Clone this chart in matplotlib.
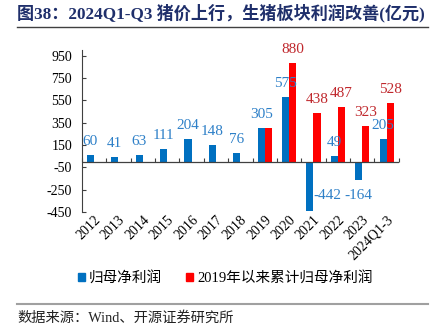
import matplotlib
matplotlib.use("Agg")
import matplotlib.pyplot as plt
import numpy as np
from matplotlib.patches import Patch

categories = ["2012", "2013", "2014", "2015", "2016", "2017", "2018", "2019",
              "2020", "2021", "2022", "2023", "2024Q1-3"]
net_profit = [60, 41, 63, 111, 204, 148, 76, 305, 575, -442, 49, -164, 205]
cum_profit = [None, None, None, None, None, None, None, 305, 880, 438, 487, 323, 528]
yticks = [-450, -250, -50, 150, 350, 550, 750, 950]

SERIF = ["Liberation Serif", "Noto Sans CJK SC", "DejaVu Sans"]
CJK = ["Liberation Serif", "Noto Sans CJK SC", "DejaVu Sans"]

BLUE = "#0070C0"
RED = "#FF0000"
BLUE_T = "#2E80C8"
RED_T = "#C0282D"

fig = plt.figure(figsize=(4.33, 3.35), dpi=100)
ax = fig.add_axes([0.189, 0.367, 0.732, 0.484])

x = np.arange(len(categories))
w = 0.29
ax.bar(x - w / 2, net_profit, width=w, color=BLUE, zorder=2)
cx = [xi for xi, v in zip(x, cum_profit) if v is not None]
cv = [v for v in cum_profit if v is not None]
ax.bar(np.array(cx) + w / 2, cv, width=w, color=RED, zorder=2)

ymin, ymax = -450, 1000
ax.set_ylim(ymin, ymax)
ax.set_xlim(-0.5, len(categories) - 0.5)

LFS = 11
for xi, v in zip(x, net_profit):
    if v >= 0:
        ax.annotate(str(v), (xi - w / 2, v), xytext=(0, 5), textcoords="offset points",
                    ha="center", va="bottom", color=BLUE_T, fontsize=LFS, family=SERIF)
ax.annotate(str(net_profit[9]), (x[9], -300), ha="left", va="center",
            color=BLUE_T, fontsize=LFS, family=SERIF)
ax.annotate(str(net_profit[11]), (x[11] - w / 2, -300), ha="center", va="center",
            color=BLUE_T, fontsize=LFS, family=SERIF)
for xi, v in zip(cx, cv):
    if xi == 7:  # 2019 shares the same value; only one label shown
        continue
    ax.annotate(str(v), (xi + w / 2, v), xytext=(0, 5), textcoords="offset points",
                ha="center", va="bottom", color=RED_T, fontsize=LFS, family=SERIF)

for s in ["top", "right", "bottom"]:
    ax.spines[s].set_visible(False)
ax.spines["left"].set_color("#404040")
ax.spines["left"].set_linewidth(0.8)
ax.set_yticks(yticks)
ax.set_yticklabels([str(t) for t in yticks], family=SERIF, fontsize=10)
ax.tick_params(axis="y", direction="in", length=3, color="#404040", pad=7)

ax.set_xticks(x)
ax.set_xticklabels(categories, rotation=45, ha="right", rotation_mode="anchor",
                   family=SERIF, fontsize=10)
ax.tick_params(axis="x", length=0, pad=1)

ax.axhline(0, color="#404040", linewidth=0.9, zorder=3)
frac = (0 - ymin) / (ymax - ymin)
sec = ax.secondary_xaxis(frac)
sec.set_xticks(np.arange(len(categories) + 1) - 0.5)
sec.set_xticklabels([])
sec.tick_params(axis="x", direction="in", length=3, color="#404040")
sec.spines["bottom"].set_visible(False)
sec.spines["top"].set_visible(False)

fig.text(0.04, 0.961, "图38：2024Q1-Q3 猪价上行，生猪板块利润改善(亿元)", ha="left", va="center",
         fontsize=12.3, fontweight="bold", color="#1F2F6B", family=CJK)
fig.add_artist(plt.Line2D([0.04, 0.988], [0.920, 0.920], color="#404040", linewidth=1.0))

handles = [Patch(color=BLUE, label="归母净利润"), Patch(color=RED, label="2019年以来累计归母净利润")]
fig.legend(handles=handles, loc="center", bbox_to_anchor=(0.52, 0.17), ncol=2,
           frameon=False, handlelength=0.5, handleheight=0.5, handletextpad=0.3,
           columnspacing=1.6, prop={"family": CJK, "size": 10.5})

fig.add_artist(plt.Line2D([0.04, 0.988], [0.093, 0.093], color="#A0A0A0", linewidth=1.5))
fig.text(0.04, 0.05, "数据来源：Wind、开源证券研究所", ha="left", va="center",
         fontsize=10.3, color="#222222", family=CJK)

fig.savefig("out.png", dpi=100)
